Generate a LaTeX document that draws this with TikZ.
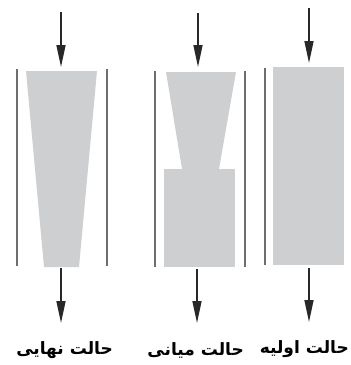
\documentclass[tikz,border=0pt]{standalone}
\usepackage{fontspec}
\newfontfamily\arabicfont[Script=Arabic]{DejaVu Sans}
\TeXXeTstate=1
\usetikzlibrary{arrows.meta}
\definecolor{wallgray}{RGB}{110,110,110}
\definecolor{bodygray}{RGB}{206,207,209}
\definecolor{arrowdark}{RGB}{40,40,40}

\begin{document}
\begin{tikzpicture}[x=1pt,y=-1pt,
  wall/.style={draw=wallgray,line width=1.8pt},
  body/.style={fill=bodygray},
  flow/.style={draw=arrowdark,line width=1.5pt,-{Triangle[length=22pt,width=9pt]}},
  statename/.style={font=\arabicfont\bfseries\fontsize{17}{20}\selectfont,inner sep=0pt,anchor=east}]
\useasboundingbox (0,0) rectangle (351,365);
% final state
\draw [wall] (17,69) -- (17,266);
\draw [wall] (107,69) -- (107,266);
\fill [body] (26,71) -- (97,71) -- (79,267) -- (44,267) -- cycle;
\coordinate (fin-in) at (61,12);
\coordinate (fin-top) at (61,67);
\coordinate (fin-bot) at (61,268);
\coordinate (fin-out) at (61,323);
\draw [flow] (fin-in) -- (fin-top);
\draw [flow] (fin-bot) -- (fin-out);
\node [statename] (fin) at (113,350) {\beginR حالت نهایی\endR};
% middle state
\draw [wall] (155,71) -- (155,267);
\draw [wall] (245,71) -- (245,267);
\fill [body] (166,72) -- (236,72) -- (219,169) -- (182,169) -- cycle;
\fill [body] (164,168.5) rectangle (235,267);
\coordinate (mid-in) at (198,13);
\coordinate (mid-top) at (198,67);
\coordinate (mid-bot) at (197,269);
\coordinate (mid-out) at (197,323);
\draw [flow] (mid-in) -- (mid-top);
\draw [flow] (mid-bot) -- (mid-out);
\node [statename] (mid) at (244,350) {\beginR حالت میانی\endR};
% initial state
\draw [wall] (265,68) -- (265,265);
\fill [body] (273,67) rectangle (344,265);
\coordinate (ini-in) at (309,8);
\coordinate (ini-top) at (309,63);
\coordinate (ini-bot) at (309,268);
\coordinate (ini-out) at (309,322);
\draw [flow] (ini-in) -- (ini-top);
\draw [flow] (ini-bot) -- (ini-out);
\node [statename] (ini) at (349,349) {\beginR حالت اولیه\endR};
\end{tikzpicture}
\end{document}
